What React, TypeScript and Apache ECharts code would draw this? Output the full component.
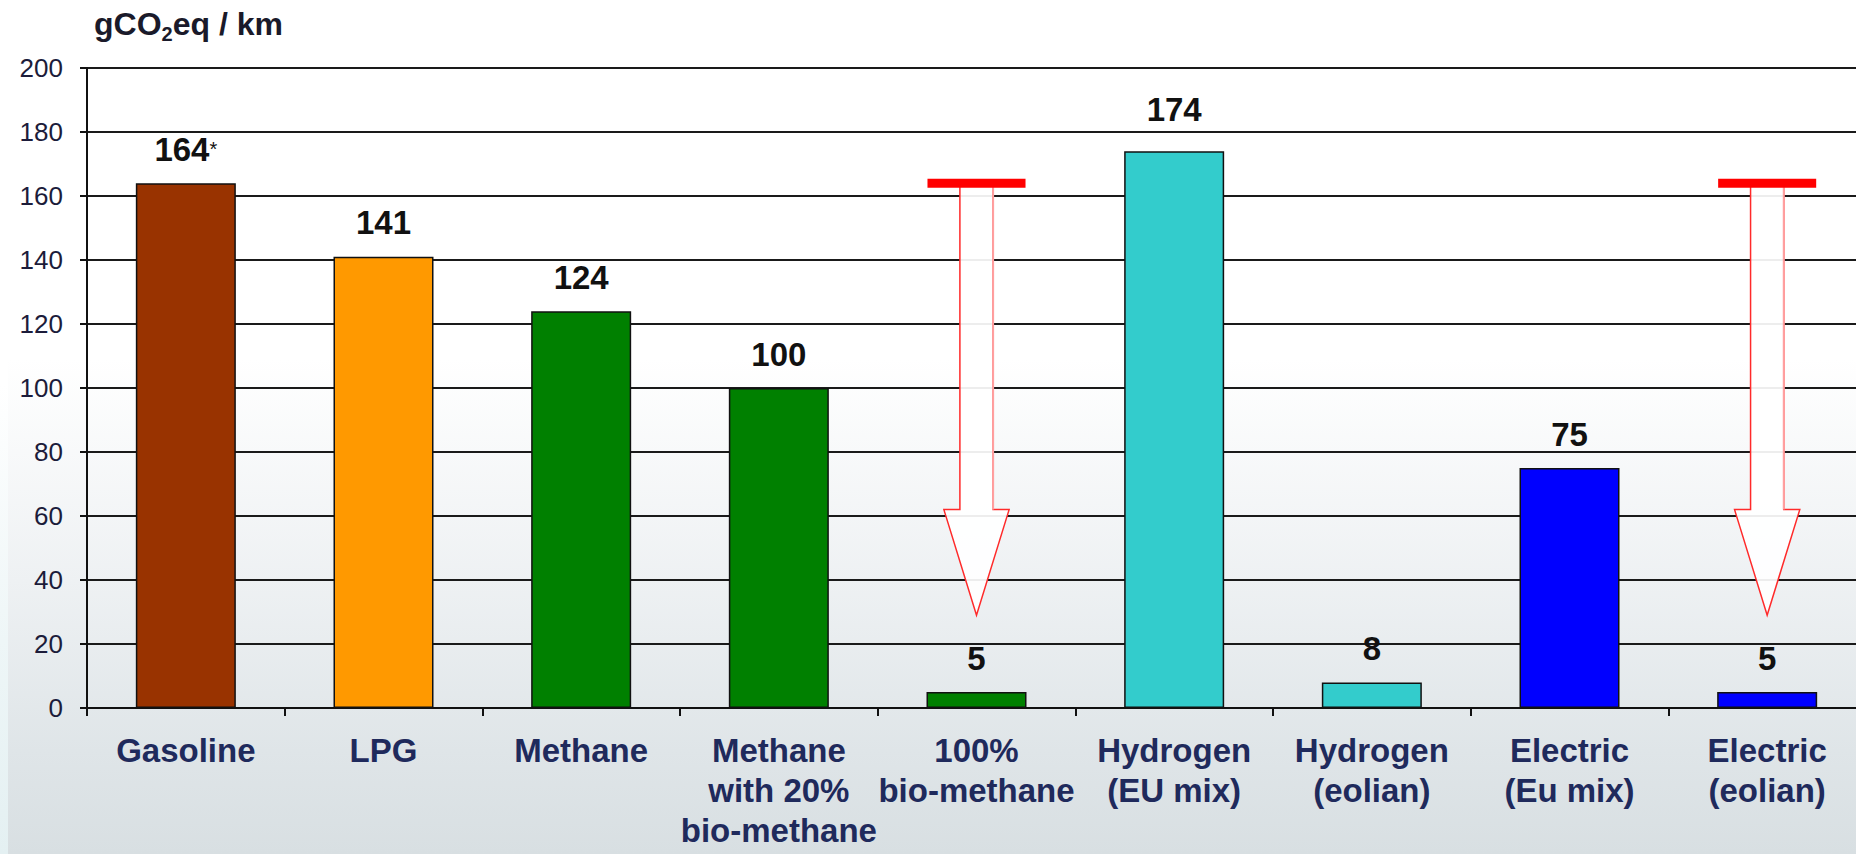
import React, { useEffect, useRef } from "react";
import * as echarts from "echarts";

const categories = [
  "Gasoline",
  "LPG",
  "Methane",
  "Methane\nwith 20%\nbio-methane",
  "100%\nbio-methane",
  "Hydrogen\n(EU mix)",
  "Hydrogen\n(eolian)",
  "Electric\n(Eu mix)",
  "Electric\n(eolian)",
];
const values = [164, 141, 124, 100, 5, 174, 8, 75, 5];
const valueLabels = ["164*", "141", "124", "100", "5", "174", "8", "75", "5"];
const barColors = [
  "#993300",
  "#ff9900",
  "#008000",
  "#008000",
  "#008000",
  "#33cccc",
  "#33cccc",
  "#0000ff",
  "#0000ff",
];
const yMin = 0;
const yMax = 200;
const yInterval = 20;

// reduction arrows: category index, start level (gasoline), head base, tip
const arrowCategories = [4, 8];
const arrowStart = [164, 164];
const arrowHeadBase = [62, 62];
const arrowTip = [29, 29];

const FONT = "'Liberation Sans', Arial, sans-serif";

export default function App() {
  const ref = useRef<HTMLDivElement>(null);

  useEffect(() => {
    if (!ref.current) return;
    const chart = echarts.init(ref.current, undefined, { renderer: "svg" });

    const barData = values.map((v, i) => {
      const item: any = {
        value: v,
        itemStyle: { color: barColors[i] },
      };
      if (v === 174) item.label = { distance: 26 };
      return item;
    });

    const arrowData = arrowCategories.map((c, i) => [
      c,
      arrowStart[i],
      arrowHeadBase[i],
      arrowTip[i],
    ]);

    chart.setOption({
      animation: false,
      backgroundColor: "transparent",
      textStyle: { fontFamily: FONT },
      title: {
        left: 94,
        top: 4,
        padding: 0,
        text: "{a|gCO}{s|2}{a|eq / km}",
        textStyle: {
          rich: {
            a: {
              fontFamily: FONT,
              fontWeight: "bold",
              fontSize: 32,
              lineHeight: 40,
              color: "#1a1a2a",
            },
            s: {
              fontFamily: FONT,
              fontWeight: "bold",
              fontSize: 20,
              lineHeight: 16,
              verticalAlign: "bottom",
              color: "#1a1a2a",
            },
          },
        },
      },
      grid: { left: 87, right: 0, top: 68, bottom: 146, containLabel: false },
      xAxis: {
        type: "category",
        data: categories,
        axisLine: { lineStyle: { color: "#111", width: 2 } },
        axisTick: { show: true, length: 8, lineStyle: { color: "#111", width: 2 } },
        axisLabel: {
          interval: 0,
          margin: 22,
          fontFamily: FONT,
          fontWeight: "bold",
          fontSize: 33,
          lineHeight: 40,
          color: "#1f2a5c",
        },
        splitLine: { show: false },
      },
      yAxis: {
        type: "value",
        min: yMin,
        max: yMax,
        interval: yInterval,
        axisLine: { show: true, lineStyle: { color: "#111", width: 2 } },
        axisTick: { show: true, length: 7, lineStyle: { color: "#111", width: 2 } },
        axisLabel: {
          margin: 24,
          fontFamily: FONT,
          fontSize: 26,
          color: "#1c1c3a",
        },
        splitLine: { show: true, lineStyle: { color: "#1a1a1a", width: 2 } },
      },
      series: [
        {
          type: "bar",
          data: barData,
          barWidth: 100,
          itemStyle: { borderColor: "#111", borderWidth: 1.5 },
          label: {
            show: true,
            position: "top",
            distance: 18,
            formatter: (p: any) => {
              const t = valueLabels[p.dataIndex];
              if (t.endsWith("*")) return "{v|" + t.slice(0, -1) + "}{a|*}";
              return "{v|" + t + "}";
            },
            rich: {
              v: {
                fontFamily: FONT,
                fontWeight: "bold",
                fontSize: 33,
                lineHeight: 32,
                color: "#111",
              },
              a: {
                fontFamily: FONT,
                fontWeight: "normal",
                fontSize: 20,
                lineHeight: 32,
                color: "#111",
              },
            },
          },
          z: 2,
        },
        {
          type: "custom",
          silent: true,
          data: arrowData,
          encode: { x: 0, y: 1 },
          z: 3,
          renderItem: (params: any, api: any) => {
            const c = api.value(0);
            const top = api.coord([c, api.value(1)]);
            const hb = api.coord([c, api.value(2)]);
            const tip = api.coord([c, api.value(3)]);
            const cw = api.size([1, 0])[0];
            const x = top[0];
            const sw = cw * 0.084;
            const hw = cw * 0.165;
            const bw = cw * 0.248;
            return {
              type: "group",
              children: [
                {
                  type: "polygon",
                  shape: {
                    points: [
                      [x - sw, top[1]],
                      [x - sw, hb[1]],
                      [x - hw, hb[1]],
                      [x, tip[1]],
                      [x + hw, hb[1]],
                      [x + sw, hb[1]],
                      [x + sw, top[1]],
                    ],
                  },
                  style: {
                    fill: "rgba(255,255,255,0.92)",
                    stroke: "#ff2a2a",
                    lineWidth: 1.5,
                  },
                },
                {
                  type: "line",
                  shape: { x1: x + sw, y1: top[1], x2: x + sw, y2: hb[1] },
                  style: { stroke: "#ffa0a0", lineWidth: 2 },
                },
                {
                  type: "rect",
                  shape: { x: x - bw, y: top[1] - 4.5, width: 2 * bw, height: 9 },
                  style: { fill: "#ff0000" },
                },
              ],
            };
          },
        },
      ],
    });

    return () => chart.dispose();
  }, []);

  return (
    <div
      style={{
        position: "absolute",
        left: 0,
        top: 0,
        width: 1856,
        height: 854,
        overflow: "hidden",
        background:
          "linear-gradient(to bottom, #ffffff 0%, #ffffff 42%, #eef1f3 68%, #dfe5e8 88%, #d8dfe2 100%)",
      }}
    >
      <div
        style={{
          position: "absolute",
          left: 0,
          top: 0,
          width: 8,
          height: 854,
          background:
            "linear-gradient(to bottom, #ffffff 0%, #ffffff 45%, #eef6f7 75%, #e4f0f2 100%)",
        }}
      />
      <div
        ref={ref}
        style={{ position: "absolute", left: 0, top: 0, width: 1866, height: 854 }}
      />
    </div>
  );
}
